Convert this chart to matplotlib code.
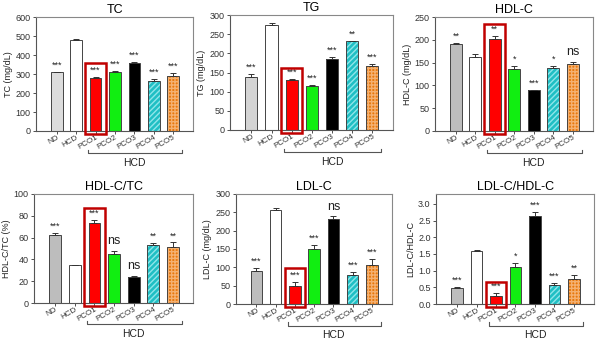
import numpy as np
import matplotlib
matplotlib.use("Agg")
import matplotlib.pyplot as plt
from matplotlib.patches import Rectangle
from matplotlib.transforms import blended_transform_factory

groups = ["ND", "HCD", "PCO1", "PCO2", "PCO3", "PCO4", "PCO5"]

tc = [310, 477, 279, 310, 360, 261, 288]
tc_err = [3, 7, 5, 5, 5, 12, 15]
tc_sig = ["***", "", "***", "***", "***", "***", "***"]

tg = [137, 275, 130, 114, 185, 231, 166]
tg_err = [9, 5, 2, 3, 5, 2, 5]
tg_sig = ["***", "", "***", "***", "***", "**", "***"]

hdl = [191, 162, 202, 137, 89, 139, 147]
hdl_err = [3, 8, 6, 6, 2, 3, 5]
hdl_sig = ["**", "", "**", "*", "***", "*", "ns"]

hdl_tc = [62, 34.5, 73, 45, 24, 53, 51.5]
hdl_tc_err = [2, 0.5, 3, 3, 1, 2, 4]
hdl_tc_sig = ["***", "", "***", "ns", "ns", "**", "**"]

ldl = [90, 257, 50, 149, 233, 80, 107]
ldl_err = [8, 5, 11, 12, 6, 8, 15]
ldl_sig = ["***", "", "***", "***", "ns", "***", "***"]

ldl_hdl = [0.48, 1.6, 0.25, 1.1, 2.64, 0.57, 0.74]
ldl_hdl_err = [0.04, 0.01, 0.07, 0.13, 0.12, 0.06, 0.12]
ldl_hdl_sig = ["***", "", "***", "*", "***", "***", "**"]

panels = [
    # title, ylabel, values, errors, labels, ylim, ticks, box top (axes frac), nd color, rect
    ("TC", "TC (mg/dL)", tc, tc_err, tc_sig, 600, np.arange(0, 601, 100), 0.60, "#dcdcdc",
     [0.060, 0.617, 0.262, 0.333]),
    ("TG", "TG (mg/dL)", tg, tg_err, tg_sig, 300, np.arange(0, 301, 50), 0.54, "#d4d4d4",
     [0.383, 0.620, 0.272, 0.336]),
    ("HDL-C", "HDL-C (mg/dL)", hdl, hdl_err, hdl_sig, 250, np.arange(0, 251, 50), 0.94, "#bdbdbd",
     [0.725, 0.617, 0.263, 0.333]),
    ("HDL-C/TC", "HDL-C/TC (%)", hdl_tc, hdl_tc_err, hdl_tc_sig, 100, np.arange(0, 101, 20), 0.87, "#bdbdbd",
     [0.057, 0.114, 0.265, 0.319]),
    ("LDL-C", "LDL-C (mg/dL)", ldl, ldl_err, ldl_sig, 300, np.arange(0, 301, 50), 0.33, "#bdbdbd",
     [0.393, 0.111, 0.260, 0.322]),
    ("LDL-C/HDL-C", "LDL-C/HDL-C", ldl_hdl, ldl_hdl_err, ldl_hdl_sig, 3.3, np.arange(0, 3.01, 0.5), 0.20, "#bdbdbd",
     [0.727, 0.111, 0.263, 0.322]),
]

bar_colors = [None, "white", "#ff0000", "#11ee11", "#000000", "#1fbfc4", "#e8780c"]
hatches = ["", "", "", "", "", "//////", "+++++"]
hatch_colors = ["none", "none", "none", "none", "none", "#8fe6ea", "#f4b070"]

plt.rcParams["font.family"] = ["Liberation Sans", "DejaVu Sans"]

fig = plt.figure(figsize=(6.0, 3.42), dpi=100)
x = np.arange(len(groups))

for title, ylabel, vals, errs, sig, ymax, ticks, box_top, nd_color, rect in panels:
    ax = fig.add_axes(rect)
    colors = [nd_color] + bar_colors[1:]
    for i in range(len(groups)):
        # fill with hatch, then outline on top
        ax.bar(x[i], vals[i], width=0.6, color=colors[i], hatch=hatches[i] or None,
               edgecolor=hatch_colors[i], linewidth=0, zorder=2)
        ax.bar(x[i], vals[i], width=0.6, color="none", edgecolor="#444444",
               linewidth=0.7, zorder=3)
        ax.errorbar(x[i], vals[i], yerr=[[0], [errs[i]]], fmt="none", ecolor="#333333",
                    elinewidth=0.7, capsize=2.5, capthick=0.7, zorder=4)
        if sig[i]:
            fs = 9 if sig[i] == "ns" else 6.5
            off = 0.01 if sig[i] == "ns" else 0.0
            ax.text(x[i], vals[i] + errs[i] + ymax * (0.02 + off), sig[i], ha="center",
                    va="bottom", fontsize=fs, color="#222222")

    ax.set_xlim(-1.07, 7.03)
    ax.set_ylim(0, ymax)
    ax.set_yticks(ticks)
    if title == "LDL-C/HDL-C":
        ax.set_yticklabels([f"{t:.1f}" for t in ticks])
    ax.tick_params(axis="y", labelsize=6.5, length=2.5, width=0.6, pad=1.5, colors="#333333")
    ax.tick_params(axis="x", length=2, width=0.6, pad=0.3, colors="#333333")
    ax.set_xticks(x)
    ax.set_xticklabels(groups, rotation=30, ha="right", rotation_mode="anchor", fontsize=5.8)
    ax.set_ylabel(ylabel, fontsize=6.5, labelpad=2, color="#222222")
    ax.set_title(title, fontsize=9, pad=3)
    for sp in ax.spines.values():
        sp.set_color("#888888")
        sp.set_linewidth(0.8)
    ax.spines["left"].set_color("#555555")
    ax.spines["bottom"].set_color("#555555")

    # highlight box around PCO1
    tr = blended_transform_factory(ax.transData, ax.transAxes)
    ax.add_patch(Rectangle((1.47, -0.025), 1.06, box_top + 0.025, transform=tr,
                           fill=False, edgecolor="#c00000", linewidth=1.8,
                           clip_on=False, zorder=5))

    # HCD bracket under PCO1..PCO5
    yb = -0.195
    ax.plot([1.62, 1.62, 6.45, 6.45], [yb + 0.03, yb, yb, yb + 0.03], transform=tr,
            color="#555555", linewidth=0.8, clip_on=False)
    ax.text(4.0, yb - 0.04, "HCD", transform=tr, ha="center", va="top", fontsize=7.5,
            color="#222222")

fig.savefig("out.png", dpi=100)
